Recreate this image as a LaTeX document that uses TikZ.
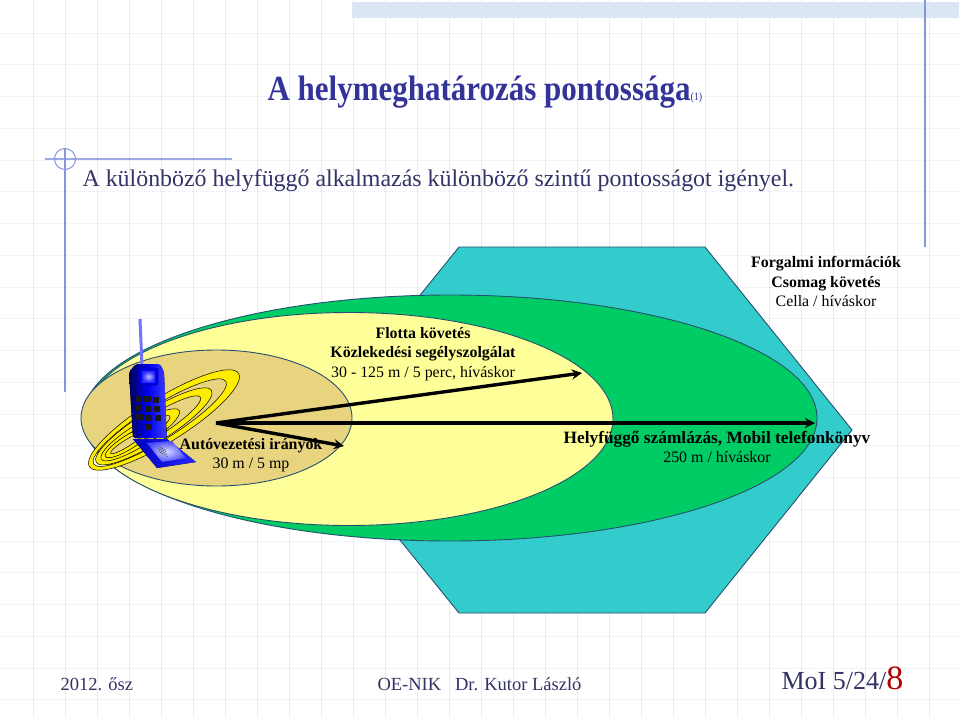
\documentclass[tikz,border=0pt]{standalone}
\usepackage{fontspec}
\setmainfont{Liberation Serif}
\usetikzlibrary{shapes.geometric, arrows}
\definecolor{slate}{HTML}{333399}
\definecolor{footer}{HTML}{333366}
\definecolor{rule_blue}{HTML}{8595E0}
\definecolor{grid_line}{HTML}{E9EBF2}
\definecolor{band_fill}{HTML}{DAE6F1}
\definecolor{hex_fill}{HTML}{33CCCC}
\definecolor{far_fill}{HTML}{00CC66}
\definecolor{mid_fill}{HTML}{FFFF99}
\definecolor{near_fill}{HTML}{E8D37F}
\definecolor{zone_line}{HTML}{27506E}
\tikzstyle{zone} = [ellipse, draw=zone_line, line width=0.9pt, inner sep=0pt]
\tikzstyle{label_text} = [draw=none, font=\fontsize{15.9}{19.3}\selectfont, align=center, text=black]
\tikzstyle{foot_text} = [draw=none, anchor=west, text=footer, font=\fontsize{18.5}{22}\selectfont]
\tikzstyle{arrow} = [line width=3.4pt,->,>=stealth]
\tikzstyle{phone_key} = [fill=black!90, minimum size=6.5pt, inner sep=0pt]
\begin{document}
\begin{tikzpicture}[x=1pt,y=-1pt]
		\useasboundingbox (0,0) rectangle (959,718);
		\fill[white] (0,0) rectangle (959,718);
		% sheet
		\foreach \gx in {0,...,28} \draw[grid_line, line width=0.7pt] ({33.7+32*\gx},0) -- ({33.7+32*\gx},718);
		\foreach \gy in {0,...,21} \draw[grid_line, line width=1pt, densely dotted] (0,{33+31.76*\gy}) -- (959,{33+31.76*\gy});
		\fill[band_fill] (352,2) rectangle (959,18);
		\draw[rule_blue, line width=1.3pt] (925,0) -- (925,247);
		\draw[rule_blue, line width=1.3pt] (65,148) -- (65,392);
		\draw[rule_blue, line width=2pt, opacity=0.8] (45,159) -- (232,159);
		\draw[rule_blue, line width=1pt] (65,159) circle (10.5);

		\node (title) [anchor=west, text=slate, font=\bfseries\fontsize{31}{36}\selectfont, yscale=1.14, transform shape] at (264,92) {A helymeghatározás pontossága{\mdseries\fontsize{10}{12}\selectfont (1)}};
		\node (intro) [anchor=west, text=footer, font=\fontsize{23.9}{28}\selectfont] at (79,181) {A különböző helyfüggő alkalmazás különböző szintű pontosságot igényel.};

		% zones
		\draw[draw=zone_line, line width=0.9pt, fill=hex_fill] (459,247) -- (705,247) -- (852,430) -- (705,613) -- (459,613) -- (311,430) -- cycle;
		\node (far_zone) [zone, fill=far_fill, minimum width=734pt, minimum height=246pt] at (450,418) {};
		\node (mid_zone) [zone, fill=mid_fill, minimum width=528pt, minimum height=213pt] at (349,419) {};
		\node (near_zone) [zone, fill=near_fill, minimum width=271pt, minimum height=136pt] at (216.5,418) {};

		% signal rings
		\begin{scope}[shift={(164,420)},rotate=32]
			\foreach \cx/\ra/\rb/\ix/\ia/\ib in {0/88/22/-5/78/17, -12/68/16/-15/58/11, -28/46/11/-31/38/7, -42/27/7/-44/19/3.5}
				\draw[fill=yellow!95!orange, draw=black, line width=0.5pt, even odd rule] (\cx,0) ellipse (\ra pt and \rb pt) (\ix,0) ellipse (\ia pt and \ib pt);
		\end{scope}

		% phone
		\draw[blue!55!white, line width=3pt] (140,319) -- (142,366);
		\fill[left color=blue!35!black, right color=blue!75!white, middle color=blue!95!black, rounded corners=2pt] (129,372) -- (136,364) -- (160,364) -- (164,372) -- (167,438) -- (133,438) -- cycle;
		\draw[blue!45!black, fill=blue!90!black, rounded corners=2pt] (139,368) rectangle (158,385);
		\shade[inner color=blue!25!white, outer color=blue!85!white] (142,371) rectangle (155,382);
		\foreach \kx/\ky in {139/399, 147.5/399, 156/400, 139/408, 148/409, 157/409, 139.5/417, 148.5/418, 158/418, 149/427}
			\node[phone_key] at (\kx,\ky) {};
		\fill[left color=blue!75!black, right color=blue!85!white] (133,439) -- (167,439) -- (196,462) -- (157,468) -- cycle;
		\shade[inner color=blue!15!white, outer color=blue!70!white] (147,443) -- (172,441) -- (186,458) -- (162,462) -- cycle;
		\foreach \dx in {0,...,3} \foreach \dy in {0,...,3}
			\fill[black!70] ({158+2.2*\dx+0.8*\dy},{446+1.2*\dx+2.2*\dy}) circle (0.7);

		% ranges
		\coordinate (centre) at (216,423);
		\coordinate (reach_mid) at (582,373);
		\coordinate (reach_far) at (815,423);
		\coordinate (reach_near) at (344,446);
		\draw [arrow] (centre) -- (reach_mid);
		\draw [arrow] (centre) -- (reach_far);
		\draw [arrow] (centre) -- (reach_near);

		\node (cell_label) [label_text] at (826,281.5) {\textbf{Forgalmi információk}\\\textbf{Csomag követés}\\Cella / híváskor};
		\node (fleet_label) [label_text] at (423,354) {\textbf{Flotta követés}\\\textbf{Közlekedési segélyszolgálat}\\30 - 125 m / 5 perc, híváskor};
		\node (drive_label) [label_text] at (251,455) {\textbf{Autóvezetési irányok}\\30 m / 5 mp};
		\node (bill_label) [label_text] at (717,447) {{\fontsize{17.3}{19.3}\selectfont\textbf{Helyfüggő számlázás, Mobil telefonkönyv}}\\250 m / híváskor};

		% footer
		\node (foot_date) [foot_text] at (57,684) {2012. ősz};
		\node (foot_name) [foot_text] at (374,684) {OE-NIK\ \ \ Dr. Kutor László};
		\node (foot_page) [anchor=base west, text=footer, font=\fontsize{26}{30}\selectfont] at (778,689) {MoI 5/24/\textcolor{red!70!black}{\fontsize{34}{36}\selectfont 8}};
		\end{tikzpicture}
\end{document}
